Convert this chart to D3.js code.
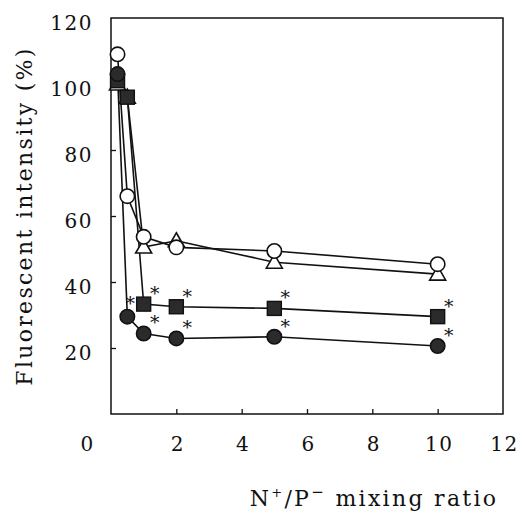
<!DOCTYPE html>
<html>
<head>
<meta charset="utf-8">
<script src="https://cdn.jsdelivr.net/npm/d3@7"></script>
<style>
  body { margin: 0; background: #fff; }
</style>
</head>
<body>
<script>
const panel_width = 524;
const panel_height = 520;

// mixing ratios measured
const ratios = [0.2, 0.5, 1, 2, 5, 10];

// fluorescent intensity (%) per series
const openCircle = [109, 66, 53.7, 50.5, 49.4, 45.4];
const openTriangle = [100, 96, 50.6, 52.5, 46, 42.4];
const filledSquare = [101, 96, 33.3, 32.5, 32, 29.5];
const filledCircle = [103, 29.5, 24.4, 22.9, 23.4, 20.6];

// significance marks (asterisk) per point
const squareStars = [false, false, true, true, true, true];
const circleStars = [false, true, true, true, true, true];

const xTicks = [0, 2, 4, 6, 8, 10, 12];
const yTicks = [20, 40, 60, 80, 100, 120];

const font = "'DejaVu Serif', 'Liberation Serif', serif";

window.addEventListener("load", makeChart);

function makeChart() {
    const svg = d3.select("body")
        .append("svg")
        .attr("width", panel_width)
        .attr("height", panel_height);

    const x = d3.scaleLinear().domain([0, 12]).range([111, 503]);
    const y = d3.scaleLinear().domain([0, 120]).range([414, 18]);

    // frame
    svg.append("rect")
        .attr("x", x(0))
        .attr("y", y(120))
        .attr("width", x(12) - x(0))
        .attr("height", y(0) - y(120))
        .attr("fill", "none")
        .attr("stroke", "#111")
        .attr("stroke-width", 1.5);

    // bottom axis, ticks point inward
    const xAxis = svg.append("g")
        .attr("transform", `translate(0,${y(0)})`)
        .call(d3.axisBottom(x).tickValues(xTicks).tickSize(-5).tickPadding(23).tickFormat(d3.format("d")));
    xAxis.select(".domain").remove();
    xAxis.selectAll("line").attr("stroke", "#111").attr("stroke-width", 1.3);
    xAxis.selectAll(".tick").filter(d => d === 0 || d === 12).select("line").remove();
    xAxis.selectAll("text")
        .attr("font-family", font)
        .attr("font-size", "20px")
        .attr("letter-spacing", "1.5px")
        .attr("dx", "1px")
        .attr("fill", "#111");
    // the zero label sits out at the corner
    xAxis.selectAll(".tick").filter(d => d === 0).select("text").attr("x", -25);

    const yAxis = svg.append("g")
        .attr("transform", `translate(${x(0)},0)`)
        .call(d3.axisLeft(y).tickValues(yTicks).tickSize(-5).tickPadding(18).tickFormat(d3.format("d")));
    yAxis.select(".domain").remove();
    yAxis.selectAll("line").attr("stroke", "#111").attr("stroke-width", 1.3);
    yAxis.selectAll(".tick").filter(d => d === 120).select("line").remove();
    yAxis.selectAll("text")
        .attr("font-family", font)
        .attr("font-size", "20px")
        .attr("letter-spacing", "1.5px")
        .attr("fill", "#111")
        .attr("dy", "0.55em");

    // axis titles
    svg.append("text")
        .attr("transform", `translate(32,216) rotate(-90)`)
        .attr("text-anchor", "middle")
        .attr("font-family", font)
        .attr("font-size", "22px")
        .attr("letter-spacing", "2.3px")
        .attr("fill", "#111")
        .text("Fluorescent intensity (%)");

    const xt = svg.append("text")
        .attr("x", 374)
        .attr("y", 506)
        .attr("text-anchor", "middle")
        .attr("font-family", font)
        .attr("font-size", "22px")
        .attr("letter-spacing", "2.3px")
        .attr("fill", "#111");
    xt.append("tspan").text("N");
    xt.append("tspan").attr("font-size", "13px").attr("dy", -9).text("+");
    xt.append("tspan").attr("dy", 9).text("/P");
    xt.append("tspan").attr("font-size", "15px").attr("dy", -9).text("\u2212");
    xt.append("tspan").attr("dy", 9).text(" mixing ratio");

    const series = [
        { vals: openTriangle, shape: "triangle", fill: "#fff" },
        { vals: openCircle, shape: "circle", fill: "#fff" },
        { vals: filledSquare, shape: "square", fill: "#2b2b2b", stars: squareStars },
        { vals: filledCircle, shape: "circle", fill: "#2b2b2b", stars: circleStars }
    ];

    const line = d3.line()
        .x(d => x(d[0]))
        .y(d => y(d[1]));

    series.forEach(s => {
        const pts = ratios.map((r, i) => [r, s.vals[i]]);
        svg.append("path")
            .datum(pts)
            .attr("d", line)
            .attr("fill", "none")
            .attr("stroke", "#111")
            .attr("stroke-width", 1.6);
    });

    series.forEach(s => {
        const pts = ratios.map((r, i) => [r, s.vals[i]]);
        const g = svg.append("g");
        pts.forEach(p => {
            const cx = x(p[0]), cy = y(p[1]);
            if (s.shape === "circle") {
                g.append("circle")
                    .attr("cx", cx).attr("cy", cy).attr("r", 7.2)
                    .attr("fill", s.fill).attr("stroke", "#111").attr("stroke-width", 1.6);
            } else if (s.shape === "square") {
                g.append("rect")
                    .attr("x", cx - 7).attr("y", cy - 7)
                    .attr("width", 14).attr("height", 14)
                    .attr("fill", s.fill).attr("stroke", "#111").attr("stroke-width", 1.4);
            } else {
                g.append("path")
                    .attr("d", `M${cx},${cy - 8}L${cx + 8},${cy + 6}L${cx - 8},${cy + 6}Z`)
                    .attr("fill", s.fill).attr("stroke", "#111").attr("stroke-width", 1.6);
            }
        });
        if (s.stars) {
            pts.forEach((p, i) => {
                if (!s.stars[i]) return;
                const dx = p[0] < 1 ? 3 : 11;
                const dy = p[0] < 1 ? -18 : -15;
                svg.append("text")
                    .attr("x", x(p[0]) + dx)
                    .attr("y", y(p[1]) + dy + 11)
                    .attr("text-anchor", "middle")
                    .attr("font-family", font)
                    .attr("font-size", "19px")
                    .attr("fill", "#111")
                    .text("*");
            });
        }
    });
}
</script>
</body>
</html>
